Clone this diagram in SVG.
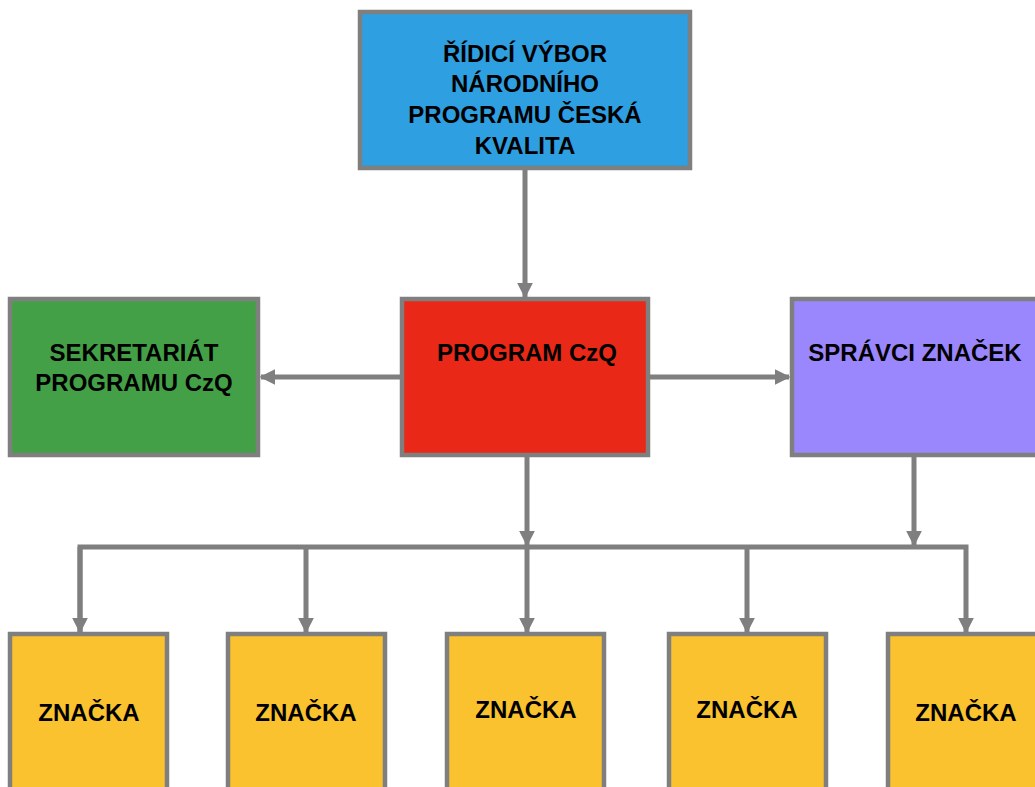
<svg xmlns="http://www.w3.org/2000/svg" width="1035" height="787" viewBox="0 0 1035 787">
<style>
.box{stroke:#7f7f7f;stroke-width:4.5}
.t{font-family:"Liberation Sans",Arial,sans-serif;font-weight:bold;font-size:24px;fill:#000;text-anchor:middle}
.c{fill:none;stroke:#7f7f7f;stroke-width:5}
</style>
<defs>
<marker id="ah" viewBox="0 0 10 10" refX="9" refY="5" markerWidth="3.2" markerHeight="3.2" orient="auto" markerUnits="strokeWidth">
<path d="M0,0 L10,5 L0,10 z" fill="#7f7f7f"/>
</marker>
</defs>
<rect width="1035" height="787" fill="#fff"/>
<g id="connectors">
<path class="c" d="M525,168 V297" marker-end="url(#ah)"/>
<path class="c" d="M402,377 H261" marker-end="url(#ah)"/>
<path class="c" d="M648,377 H789" marker-end="url(#ah)"/>
<path class="c" d="M527,455 V545" marker-end="url(#ah)"/>
<path class="c" d="M914,455 V545" marker-end="url(#ah)"/>
<path class="c" d="M80,632 V547 H966 V632" marker-end="url(#ah)"/>
<path class="c" d="M80,547 V632" marker-end="url(#ah)"/>
<path class="c" d="M306,547 V632" marker-end="url(#ah)"/>
<path class="c" d="M527,547 V632" marker-end="url(#ah)"/>
<path class="c" d="M747,547 V632" marker-end="url(#ah)"/>
</g>
<g id="ridici">
<rect class="box" x="360" y="12" width="330" height="156" fill="#2e9fe0"/>
<text class="t" x="525" y="62">ŘÍDICÍ VÝBOR</text>
<text class="t" x="525" y="92">NÁRODNÍHO</text>
<text class="t" x="525" y="123">PROGRAMU ČESKÁ</text>
<text class="t" x="525" y="154">KVALITA</text>
</g>
<g id="sekretariat">
<rect class="box" x="10" y="299" width="248" height="156" fill="#44a047"/>
<text class="t" x="134" y="361">SEKRETARIÁT</text>
<text class="t" x="134" y="391">PROGRAMU CzQ</text>
</g>
<g id="program">
<rect class="box" x="402" y="299" width="246" height="156" fill="#e92817"/>
<text class="t" x="527" y="361">PROGRAM CzQ</text>
</g>
<g id="spravci">
<rect class="box" x="792" y="299" width="250" height="156" fill="#9b87fd"/>
<text class="t" x="915" y="361">SPRÁVCI ZNAČEK</text>
</g>
<g id="znacka1">
<rect class="box" x="10" y="634" width="157" height="160" fill="#f9c22e"/>
<text class="t" x="89" y="721">ZNAČKA</text>
</g>
<g id="znacka2">
<rect class="box" x="228" y="634" width="157" height="160" fill="#f9c22e"/>
<text class="t" x="306" y="721">ZNAČKA</text>
</g>
<g id="znacka3">
<rect class="box" x="447" y="634" width="157" height="160" fill="#f9c22e"/>
<text class="t" x="526" y="718">ZNAČKA</text>
</g>
<g id="znacka4">
<rect class="box" x="669" y="634" width="157" height="160" fill="#f9c22e"/>
<text class="t" x="747" y="718">ZNAČKA</text>
</g>
<g id="znacka5">
<rect class="box" x="888" y="634" width="157" height="160" fill="#f9c22e"/>
<text class="t" x="966" y="721">ZNAČKA</text>
</g>
</svg>
